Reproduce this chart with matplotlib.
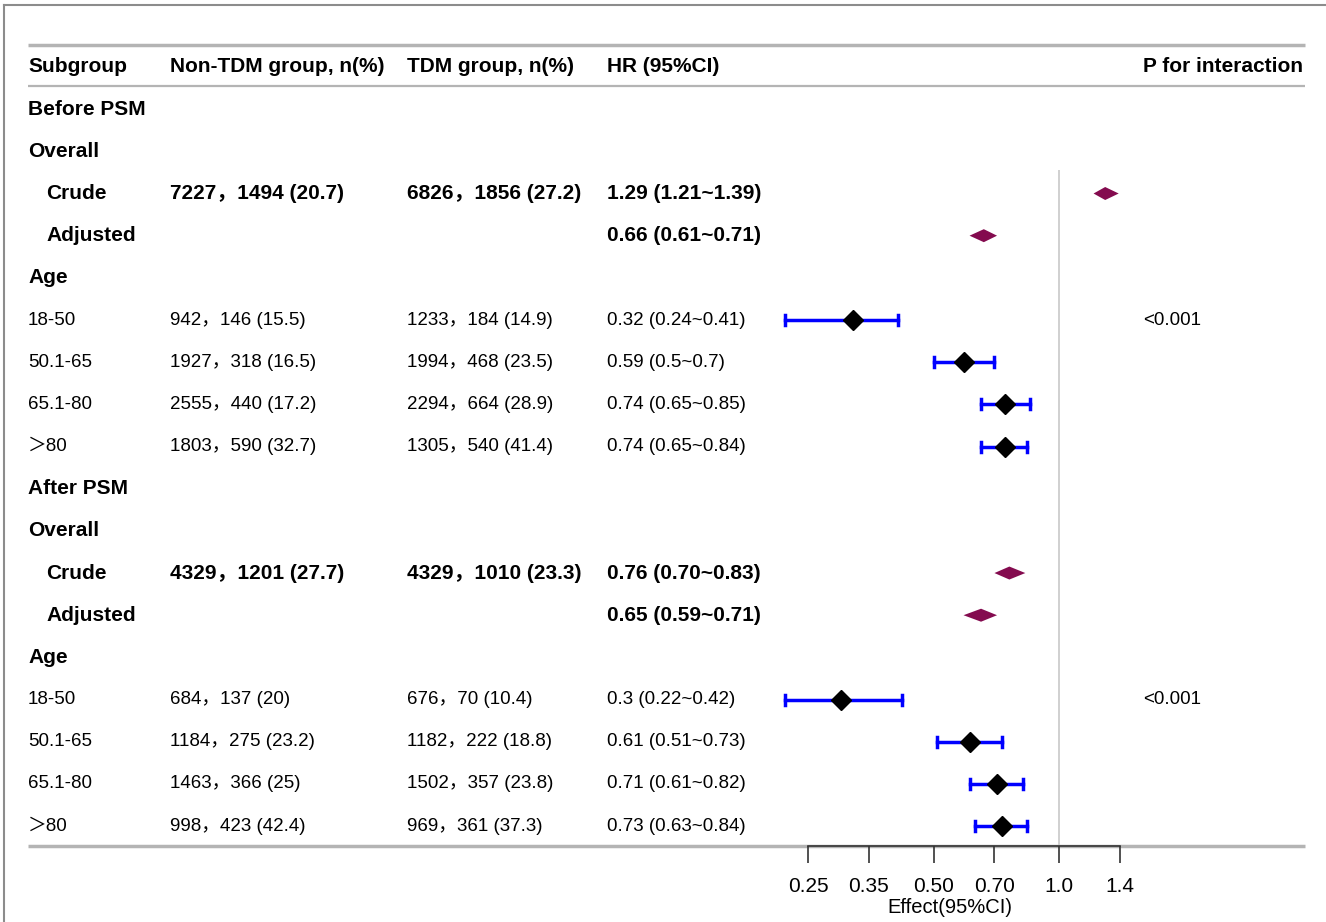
import numpy as np
import matplotlib
matplotlib.use('Agg')
import matplotlib.pyplot as plt

plt.rcParams['font.family'] = ['Liberation Sans', 'Noto Sans CJK SC', 'DejaVu Sans']

# table data
labels = ['Before PSM', 'Overall', 'Crude', 'Adjusted', 'Age',
          '18-50', '50.1-65', '65.1-80', '＞80',
          'After PSM', 'Overall', 'Crude', 'Adjusted', 'Age',
          '18-50', '50.1-65', '65.1-80', '＞80']
non_tdm = ['', '', '7227，1494 (20.7)', '', '',
           '942，146 (15.5)', '1927，318 (16.5)', '2555，440 (17.2)', '1803，590 (32.7)',
           '', '', '4329，1201 (27.7)', '', '',
           '684，137 (20)', '1184，275 (23.2)', '1463，366 (25)', '998，423 (42.4)']
tdm = ['', '', '6826，1856 (27.2)', '', '',
       '1233，184 (14.9)', '1994，468 (23.5)', '2294，664 (28.9)', '1305，540 (41.4)',
       '', '', '4329，1010 (23.3)', '', '',
       '676，70 (10.4)', '1182，222 (18.8)', '1502，357 (23.8)', '969，361 (37.3)']
hr_text = ['', '', '1.29 (1.21~1.39)', '0.66 (0.61~0.71)', '',
           '0.32 (0.24~0.41)', '0.59 (0.5~0.7)', '0.74 (0.65~0.85)', '0.74 (0.65~0.84)',
           '', '', '0.76 (0.70~0.83)', '0.65 (0.59~0.71)', '',
           '0.3 (0.22~0.42)', '0.61 (0.51~0.73)', '0.71 (0.61~0.82)', '0.73 (0.63~0.84)']
p_int = ['', '', '', '', '', '<0.001', '', '', '', '', '', '', '', '', '<0.001', '', '', '']

# plotted estimates (nan = no mark); kind: 's' summary diamond, 'p' point + CI
nan = np.nan
hr = [nan, nan, 1.29, 0.66, nan, 0.32, 0.59, 0.74, 0.74,
      nan, nan, 0.76, 0.65, nan, 0.30, 0.61, 0.71, 0.73]
lo = [nan, nan, 1.21, 0.61, nan, 0.22, 0.50, 0.65, 0.65,
      nan, nan, 0.70, 0.59, nan, 0.22, 0.51, 0.61, 0.63]
hi = [nan, nan, 1.39, 0.71, nan, 0.41, 0.70, 0.85, 0.84,
      nan, nan, 0.83, 0.71, nan, 0.42, 0.73, 0.82, 0.84]
kind = ['', '', 's', 's', '', 'p', 'p', 'p', 'p',
        '', '', 's', 's', '', 'p', 'p', 'p', 'p']
bold_rows = {0, 1, 2, 3, 4, 9, 10, 11, 12, 13}
indent_rows = {2, 3, 11, 12}

headers = ['Subgroup', 'Non-TDM group, n(%)', 'TDM group, n(%)', 'HR (95%CI)', 'P for interaction']
xticks = [0.25, 0.35, 0.50, 0.70, 1.0, 1.4]
xtick_labels = ['0.25', '0.35', '0.50', '0.70', '1.0', '1.4']

W, H = 1326, 922
fig = plt.figure(figsize=(W / 100, H / 100), dpi=100)
tab = fig.add_axes([0, 0, 1, 1])
tab.set_xlim(0, W)
tab.set_ylim(H, 0)
tab.axis('off')

def row_y(i):
    return 67 + 42.17 * (i + 1)

col_x = [28, 170, 407, 607, 1143]
line_c = '#b4b4b4'

# frame of the screenshot
tab.plot([4, 4], [5, H], color='#8c8c8c', lw=1.5)
tab.plot([4, W], [5, 5], color='#8c8c8c', lw=1.5)

# table rules
tab.plot([28, 1305], [45, 45], color=line_c, lw=2.5, solid_capstyle='butt')
tab.plot([28, 1305], [86, 86], color=line_c, lw=1.6, solid_capstyle='butt')
tab.plot([28, 1305], [846, 846], color=line_c, lw=2.5, solid_capstyle='butt')

for x, h in zip(col_x, headers):
    tab.text(x, 67, h, fontsize=15, fontweight='bold', va='center', ha='left')

for i in range(len(labels)):
    y = row_y(i)
    b = i in bold_rows
    fw = 'bold' if b else 'normal'
    fs = 15 if b else 13.5
    xl = 46 if i in indent_rows else 28
    tab.text(xl, y, labels[i], fontsize=fs, fontweight=fw, va='center')
    tab.text(col_x[1], y, non_tdm[i], fontsize=fs, fontweight=fw, va='center')
    tab.text(col_x[2], y, tdm[i], fontsize=fs, fontweight=fw, va='center')
    tab.text(col_x[3], y, hr_text[i], fontsize=fs, fontweight=fw, va='center')
    tab.text(col_x[4], y, p_int[i], fontsize=13.5, va='center')

# forest panel: log scale, 0.25 at px 808, 1.4 at px 1120
x0, x1 = 808, 1120
k = (x1 - x0) / np.log(1.4 / 0.25)
xmin, xmax = 0.2, 1.5
px_l = x0 + k * np.log(xmin / 0.25)
px_r = x0 + k * np.log(xmax / 0.25)
y_top, y_bot = 170, 846
ax = fig.add_axes([px_l / W, 1 - y_bot / H, (px_r - px_l) / W, (y_bot - y_top) / H])
ax.set_xscale('log')
ax.set_xlim(xmin, xmax)
ax.set_ylim(y_bot, y_top)
ax.patch.set_alpha(0)
for s in ['top', 'right', 'left']:
    ax.spines[s].set_visible(False)
ax.spines['bottom'].set_bounds(0.25, 1.4)
ax.spines['bottom'].set_color('#333333')
ax.spines['bottom'].set_linewidth(1.2)
ax.set_yticks([])
ax.set_xticks(xticks)
ax.set_xticklabels(xtick_labels, fontsize=15)
ax.xaxis.set_minor_locator(matplotlib.ticker.NullLocator())
ax.tick_params(axis='x', length=12, width=1.2, color='#333333', pad=10)
ax.set_xlabel('Effect(95%CI)', fontsize=14.5, labelpad=2)

ax.axvline(1.0, color='#c8c8c8', lw=1.2, zorder=0)

for i in range(len(hr)):
    if np.isnan(hr[i]):
        continue
    y = row_y(i)
    if kind[i] == 's':
        ax.fill([lo[i], hr[i], hi[i], hr[i]], [y, y - 6.5, y, y + 6.5],
                color='#840b4f', lw=0, zorder=3)
    else:
        ax.plot([lo[i], hi[i]], [y, y], color='#0000ff', lw=2.5, zorder=2)
        for c in (lo[i], hi[i]):
            ax.plot([c, c], [y - 5, y + 5], color='#0000ff', lw=2.5, zorder=2)
        ax.plot(hr[i], y, marker='D', color='black', ms=10, zorder=3)

fig.savefig('out.png', dpi=100)
